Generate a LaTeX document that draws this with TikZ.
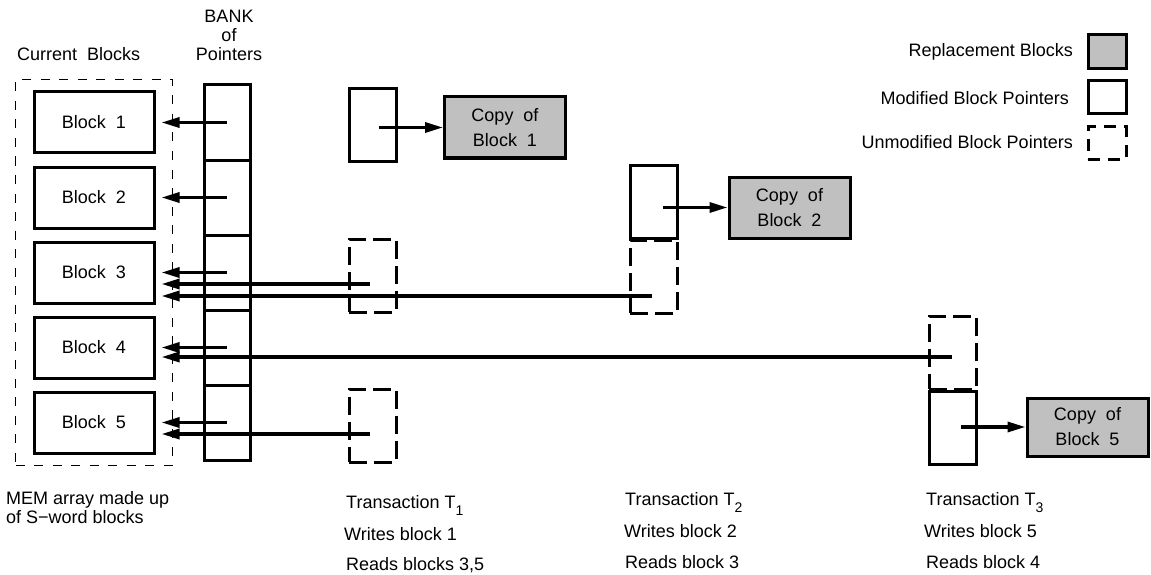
\documentclass[tikz,border=0pt]{standalone}
\usepackage{fontspec}
\setmainfont{Liberation Sans}
\usetikzlibrary{arrows.meta}
\definecolor{repl}{HTML}{C0C0C0}
\begin{document}
\begin{tikzpicture}[x=1pt,y=-1pt,
  every node/.style={font=\fontsize{18}{21.6}\selectfont, inner sep=0pt},
  blk/.style={draw, line width=3pt, minimum width=120pt, minimum height=61pt},
  cell/.style={draw, line width=3pt, minimum width=46pt, minimum height=75pt},
  ptr/.style={draw, line width=3pt, minimum width=47pt, minimum height=73pt},
  uptr/.style={ptr, dash pattern=on 18pt off 7pt},
  cpy/.style={draw, fill=repl, line width=3pt, minimum width=121pt, minimum height=61pt, align=center, font=\fontsize{18}{25}\selectfont},
  arr/.style={line width=3.2pt, -{Triangle[length=18pt,width=10pt]}},
  lbl/.style={anchor=base west},
  lgd/.style={anchor=base east},
  ttl/.style={anchor=base},
]
\useasboundingbox (0,0) rectangle (1151,575);

% MEM array
\node[draw, line width=1.5pt, dash pattern=on 9pt off 9.5pt, minimum width=157pt, minimum height=386pt] (mem) at (94,272.5) {};
\foreach \i in {1,...,5}{
  \node[blk] (blk\i) at (94,{47.5+75*\i}) {Block~~\i};
  \node[cell] (bank\i) at (227,{47.5+75*\i}) {};
}

% Transaction 1
\node[ptr] (t1m) at (373,125) {};
\node[uptr] (t1r3) at (372.5,275.5) {};
\node[uptr] (t1r5) at (372.5,425.5) {};
\node[cpy] (cp1) at (505,127.5) {Copy~~of\\Block~~1};

% Transaction 2
\node[uptr] (t2r3) at (653.5,276.5) {};
\node[ptr] (t2m) at (653.5,202) {};
\node[cpy] (cp2) at (789.5,207.5) {Copy~~of\\Block~~2};

% Transaction 3
\node[uptr] (t3r4) at (952.5,352.5) {};
\node[ptr] (t3m) at (952.5,427.5) {};
\node[cpy, minimum height=58pt] (cp5) at (1087.5,427) {Copy~~of\\Block~~5};

% Legend
\node[draw, fill=repl, line width=3pt, minimum width=38pt, minimum height=34pt] (lg1) at (1107,52) {};
\node[draw, line width=3pt, minimum width=38pt, minimum height=33pt] (lg2) at (1107,97.5) {};
\node[draw, line width=3pt, dash pattern=on 12pt off 8pt, minimum width=38pt, minimum height=32pt] (lg3) at (1107,143) {};
\node[lgd] (lt1) at (1073,57) {Replacement Blocks};
\node[lgd] (lt2) at (1069,105) {Modified Block Pointers};
\node[lgd] (lt3) at (1073,149) {Unmodified Block Pointers};

% Titles
\node[lbl] (curb) at (17,61) {Current~~Blocks};
\node[ttl] (bk1) at (229,23) {BANK};
\node[ttl] (bk2) at (229,42) {of};
\node[ttl] (bk3) at (229,61) {Pointers};

% Bottom captions
\node[lbl] (mem1) at (6,504) {MEM array made up};
\node[lbl] (mem2) at (6,523) {of S−word blocks};
\node[lbl] (ta1) at (346,508) {Transaction T\raisebox{-7pt}{\fontsize{14}{14}\selectfont 1}};
\node[lbl] (ta2) at (344,540) {Writes block 1};
\node[lbl] (ta3) at (346,570) {Reads blocks 3,5};
\node[lbl] (tb1) at (625,505) {Transaction T\raisebox{-7pt}{\fontsize{14}{14}\selectfont 2}};
\node[lbl] (tb2) at (624,537) {Writes block 2};
\node[lbl] (tb3) at (625,568) {Reads block 3};
\node[lbl] (tc1) at (926,505) {Transaction T\raisebox{-7pt}{\fontsize{14}{14}\selectfont 3}};
\node[lbl] (tc2) at (924,537) {Writes block 5};
\node[lbl] (tc3) at (926,568) {Reads block 4};

% Pointer arrows from bank
\foreach \i in {1,...,5}{
  \draw[arr, shorten >=6pt] (bank\i.center) -- (blk\i.east);
}
% Read pointers from transactions
\coordinate (r13) at (370,284);
\coordinate (r23) at (652,296);
\coordinate (r34) at (952,357);
\coordinate (r15) at (370,434);
\draw[arr, shorten >=6pt] (r13) -- (r13 -| blk3.east);
\draw[arr, shorten >=6pt] (r23) -- (r23 -| blk3.east);
\draw[arr, shorten >=6pt] (r34) -- (r34 -| blk4.east);
\draw[arr, shorten >=6pt] (r15) -- (r15 -| blk5.east);
% Write pointers to copies
\coordinate (w1) at (379,127.5);
\coordinate (w2) at (663,207.5);
\coordinate (w5) at (961,427);
\draw[arr] (w1) -- (cp1.west);
\draw[arr] (w2) -- (cp2.west);
\draw[arr] (w5) -- (cp5.west);
\end{tikzpicture}
\end{document}
